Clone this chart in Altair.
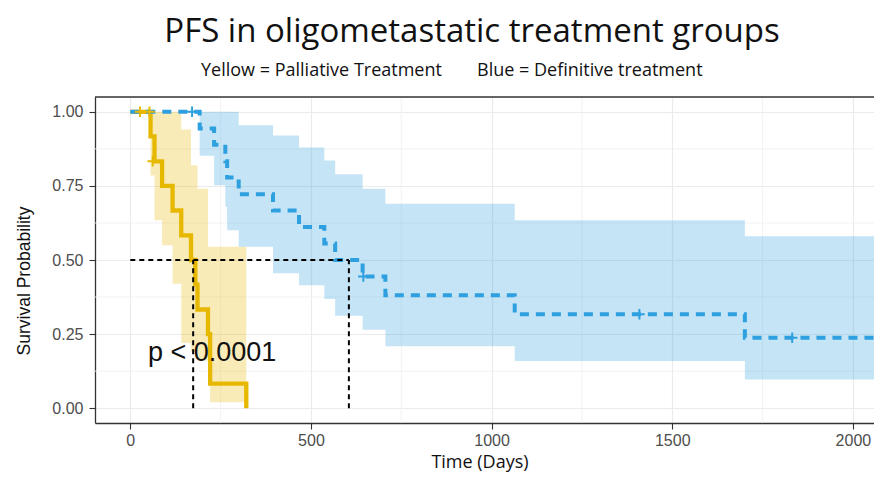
import altair as alt
import pandas as pd

# ---------------- data ----------------
# Palliative treatment (yellow)
pal_time = [0, 56, 67, 88, 117, 141, 168, 180, 186, 215, 221, 321]
pal_surv = [1.0, 0.917, 0.833, 0.75, 0.667, 0.583, 0.5, 0.417, 0.333, 0.25, 0.083, 0.0]
pal_lower = [1.0, 0.785, 0.634, 0.55, 0.42, 0.22, 0.19, 0.17, 0.16, 0.155, 0.02, 0.02]
pal_upper = [1.0, 1.0, 1.0, 1.0, 1.0, 0.94, 0.82, 0.82, 0.74, 0.545, 0.545, 0.545]
pal_cens_time = [27, 53, 62]
pal_cens_surv = [1.0, 1.0, 0.833]

# Definitive treatment (blue)
def_time = [0, 192, 232, 263, 268, 300, 395, 467, 537, 567, 643, 706, 1064, 1701, 2100]
def_surv = [1.0, 0.944, 0.889, 0.833, 0.778, 0.722, 0.667, 0.611, 0.556, 0.5, 0.444, 0.381, 0.317, 0.238, 0.238]
def_lower = [1.0, 0.852, 0.752, 0.68, 0.60, 0.545, 0.455, 0.415, 0.368, 0.312, 0.265, 0.209, 0.159, 0.097, 0.097]
def_upper = [1.0, 1.0, 1.0, 1.0, 1.0, 0.955, 0.92, 0.88, 0.836, 0.789, 0.74, 0.69, 0.634, 0.58, 0.58]
def_cens_time = [171, 645, 1409, 1832]
def_cens_surv = [1.0, 0.444, 0.317, 0.238]

medians = [174, 605]

x_ticks = [0, 500, 1000, 1500, 2000]
y_ticks = [0, 0.25, 0.5, 0.75, 1.0]
x_minor = [250, 750, 1250, 1750]
y_minor = [0.125, 0.375, 0.625, 0.875]

title_text = "PFS in oligometastatic treatment groups"
sub_left = "Yellow = Palliative Treatment"
sub_right = "Blue = Definitive treatment"
p_text = "p < 0.0001"
x_title = "Time (Days)"
y_title = "Survival Probability"

YELLOW = "#E7B800"
BLUE = "#2E9FDF"

W, H = 779, 326

pal = pd.DataFrame({"t": pal_time, "s": pal_surv, "lo": pal_lower, "hi": pal_upper})
dfn = pd.DataFrame({"t": def_time, "s": def_surv, "lo": def_lower, "hi": def_upper})
pal_c = pd.DataFrame({"t": pal_cens_time, "s": pal_cens_surv})
def_c = pd.DataFrame({"t": def_cens_time, "s": def_cens_surv})

xs = alt.Scale(domain=[-97.7, 2058.4], nice=False, zero=False)
ys = alt.Scale(domain=[-0.05, 1.05], nice=False, zero=False)

xaxis = alt.Axis(values=x_ticks, format="d", title=None, grid=True,
                 gridColor="#EBEBEB", gridWidth=1.2,
                 labelFont="Liberation Sans", labelFontSize=16, labelColor="#4D4D4D",
                 tickColor="#333333", tickSize=6, tickWidth=1.1,
                 domainColor="#333333", domainWidth=1.3, labelPadding=3)
yaxis = alt.Axis(values=y_ticks, format=".2f", title=None, grid=True,
                 gridColor="#EBEBEB", gridWidth=1.2,
                 labelFont="Liberation Sans", labelFontSize=16, labelColor="#4D4D4D",
                 tickColor="#333333", tickSize=6, tickWidth=1.1,
                 domainColor="#333333", domainWidth=1.3, labelPadding=6)


def X(f):
    return alt.X(f, type="quantitative", scale=xs, axis=xaxis)


def Y(f):
    return alt.Y(f, type="quantitative", scale=ys, axis=yaxis)


minor_v = alt.Chart(pd.DataFrame({"v": x_minor})).mark_rule(
    color="#F0F0F0", strokeWidth=0.9).encode(x=X("v"))
minor_h = alt.Chart(pd.DataFrame({"v": y_minor})).mark_rule(
    color="#F0F0F0", strokeWidth=0.9).encode(y=Y("v"))

pal_band = alt.Chart(pal).mark_area(interpolate="step-after", color=YELLOW,
                                    opacity=0.28, clip=True).encode(
    x=X("t"), y=Y("lo"), y2=alt.Y2("hi"))
def_band = alt.Chart(dfn).mark_area(interpolate="step-after", color=BLUE,
                                    opacity=0.28, clip=True).encode(
    x=X("t"), y=Y("lo"), y2=alt.Y2("hi"))

pal_line = alt.Chart(pal).mark_line(interpolate="step-after", color=YELLOW,
                                    strokeWidth=4.3, clip=True).encode(
    x=X("t"), y=Y("s"))
def_line = alt.Chart(dfn).mark_line(interpolate="step-after", color=BLUE,
                                    strokeWidth=4, strokeDash=[9, 7],
                                    strokeCap="butt", clip=True).encode(
    x=X("t"), y=Y("s"))

cross = "M-1,0L1,0M0,-1L0,1"
pal_cens = alt.Chart(pal_c).mark_point(shape=cross, filled=False, size=110,
                                       strokeWidth=2, color=YELLOW, opacity=1).encode(
    x=X("t"), y=Y("s"))
def_cens = alt.Chart(def_c).mark_point(shape=cross, filled=False, size=110,
                                       strokeWidth=2, color=BLUE, opacity=1).encode(
    x=X("t"), y=Y("s"))

med_h = alt.Chart(pd.DataFrame({"x": [pal_time[0]], "x2": [max(medians)], "y": [0.5]})).mark_rule(
    color="black", strokeWidth=2, strokeDash=[5, 4]).encode(
    x=X("x"), x2=alt.X2("x2"), y=Y("y"))
med_v = alt.Chart(pd.DataFrame({"x": medians, "y": [0.0, 0.0], "y2": [0.5, 0.5]})).mark_rule(
    color="black", strokeWidth=2, strokeDash=[5, 4]).encode(
    x=X("x"), y=Y("y"), y2=alt.Y2("y2"))

top_border = alt.Chart(pd.DataFrame({"a": [0]})).mark_rule(
    color="#333333", strokeWidth=1.3).encode(
    y=alt.value(0), x=alt.value(0), x2=alt.value(W))


def label(txt, x, y, size, font, color="#111111", align="left", angle=0, baseline="alphabetic"):
    kw = dict(align=align, baseline=baseline, fontSize=size, font=font, color=color)
    if angle:
        kw["angle"] = angle
    return alt.Chart(pd.DataFrame({"txt": [txt]})).mark_text(**kw).encode(
        text="txt:N", x=alt.value(x), y=alt.value(y))


t_title = label(title_text, 377, -55, 33, "Open Sans", align="center")
t_sub1 = label(sub_left, 106, -21, 18, "Open Sans")
t_sub2 = label(sub_right, 382, -21, 18, "Open Sans")
t_p = label(p_text, 53, 264, 27, "Liberation Sans")
t_x = label(x_title, 385, 371, 18, "Open Sans", align="center")
t_y = label(y_title, -70, 184, 17.5, "Liberation Sans", align="center", angle=270,
            baseline="middle")

chart = alt.layer(
    minor_v, minor_h, pal_band, def_band, pal_line, def_line,
    pal_cens, def_cens, med_h, med_v, top_border,
    t_p, t_title, t_sub1, t_sub2, t_x, t_y
).properties(
    width=W, height=H,
    padding={"left": 87, "top": 89, "right": 0, "bottom": 50},
    autosize=alt.AutoSizeParams(type="none"),
    background="white",
).configure_view(stroke=None)

chart.save("out.html", embed_options={"renderer": "svg", "actions": False})
